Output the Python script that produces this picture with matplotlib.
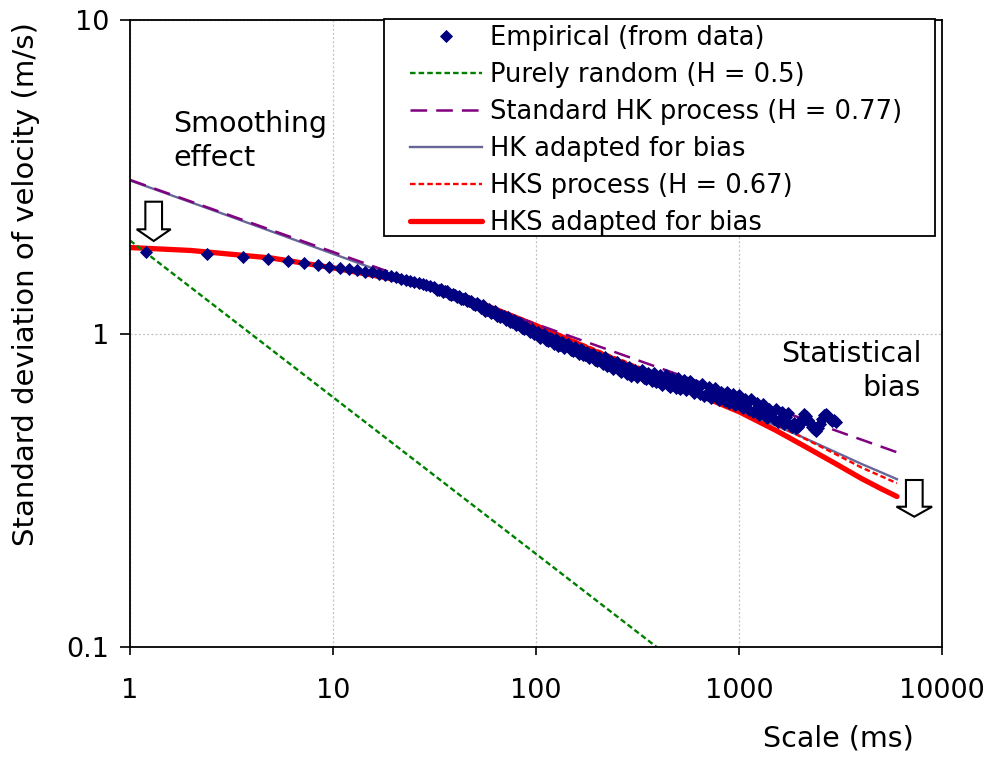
import matplotlib
matplotlib.use('Agg')
import matplotlib.pyplot as plt
from matplotlib.patches import Rectangle, Polygon
from matplotlib.ticker import NullLocator, FixedLocator, FixedFormatter

plt.rcParams['font.family'] = ['DejaVu Sans']
plt.rcParams['lines.scale_dashes'] = False

# ---------------- data ----------------
emp_scale = [1.2, 2.4, 3.6, 4.8, 6.0, 7.2, 8.4, 9.6, 10.8, 12.0, 13.2, 14.4, 15.6, 16.8, 18.0,
             19.2, 20.4, 21.6, 22.8, 24.0, 25.2, 26.4, 27.6, 28.8, 30.0,
             31.6, 32.4, 33.1, 33.9, 34.7, 35.5, 36.3, 37.2, 38.0, 38.9,
             39.8, 40.7, 41.7, 42.7, 43.7, 44.7, 45.7, 46.8, 47.9, 49.0,
             50.1, 51.3, 52.5, 53.7, 55.0, 56.2, 57.5, 58.9, 60.3, 61.7,
             63.1, 64.6, 66.1, 67.6, 69.2, 70.8, 72.4, 74.1, 75.9, 77.6,
             79.4, 81.3, 83.2, 85.1, 87.1, 89.1, 91.2, 93.3, 95.5, 97.7,
             100.0, 102.3, 104.7, 107.2, 109.6, 112.2, 114.8, 117.5, 120.2, 123.0,
             125.9, 128.8, 131.8, 134.9, 138.0, 141.3, 144.5, 147.9, 151.4, 154.9,
             158.5, 162.2, 166.0, 169.8, 173.8, 177.8, 182.0, 186.2, 190.5, 195.0,
             199.5, 204.2, 208.9, 213.8, 218.8, 223.9, 229.1, 234.4, 239.9, 245.5,
             251.2, 257.0, 263.0, 269.2, 275.4, 281.8, 288.4, 295.1, 302.0, 309.0,
             316.2, 323.6, 331.1, 338.8, 346.7, 354.8, 363.1, 371.5, 380.2, 389.0,
             398.1, 407.4, 416.9, 426.6, 436.5, 446.7, 457.1, 467.7, 478.6, 489.8,
             501.2, 512.9, 524.8, 537.0, 549.5, 562.3, 575.4, 588.8, 602.6, 616.6,
             631.0, 645.7, 660.7, 676.1, 691.8, 707.9, 724.4, 741.3, 758.6, 776.2,
             794.3, 812.8, 831.8, 851.1, 871.0, 891.3, 912.0, 933.3, 955.0, 977.2,
             1000, 1023, 1047, 1072, 1096, 1122, 1148, 1175, 1202, 1230,
             1259, 1288, 1318, 1349, 1380, 1413, 1445, 1479, 1514, 1549,
             1585, 1622, 1660, 1698, 1738, 1778, 1820, 1862, 1905, 1950,
             1995, 2042, 2089, 2138, 2188, 2239, 2291, 2344, 2399, 2455,
             2512, 2570, 2630, 2692, 2754, 2818, 2884, 2951, 3020]
emp_sd = [1.815, 1.789, 1.754, 1.724, 1.703, 1.682, 1.654, 1.633, 1.622, 1.606, 1.591, 1.574,
          1.566, 1.552, 1.541, 1.529, 1.515, 1.497, 1.486, 1.474, 1.462, 1.452, 1.440, 1.427, 1.414,
          1.411, 1.381, 1.378, 1.385, 1.357, 1.364, 1.366, 1.339, 1.329, 1.338,
          1.326, 1.307, 1.319, 1.291, 1.289, 1.294, 1.269, 1.273, 1.272, 1.246,
          1.235, 1.247, 1.231, 1.203, 1.229, 1.184, 1.185, 1.200, 1.160, 1.174,
          1.178, 1.141, 1.129, 1.148, 1.133, 1.107, 1.131, 1.089, 1.091, 1.103,
          1.065, 1.077, 1.080, 1.044, 1.031, 1.049, 1.036, 1.010, 1.031, 0.993,
          0.993, 1.011, 0.966, 0.987, 0.996, 0.954, 0.943, 0.971, 0.957, 0.928,
          0.963, 0.914, 0.919, 0.939, 0.898, 0.919, 0.928, 0.888, 0.877, 0.903,
          0.889, 0.863, 0.894, 0.851, 0.855, 0.875, 0.836, 0.855, 0.862, 0.825,
          0.816, 0.844, 0.829, 0.797, 0.839, 0.785, 0.792, 0.818, 0.770, 0.796,
          0.809, 0.764, 0.753, 0.785, 0.771, 0.740, 0.780, 0.731, 0.741, 0.767,
          0.724, 0.750, 0.763, 0.723, 0.714, 0.746, 0.735, 0.707, 0.746, 0.699,
          0.708, 0.739, 0.685, 0.721, 0.738, 0.687, 0.677, 0.719, 0.706, 0.672,
          0.723, 0.664, 0.676, 0.709, 0.658, 0.691, 0.708, 0.659, 0.648, 0.687,
          0.673, 0.641, 0.688, 0.633, 0.643, 0.674, 0.624, 0.656, 0.672, 0.625,
          0.614, 0.652, 0.639, 0.608, 0.653, 0.600, 0.610, 0.639, 0.592, 0.621,
          0.635, 0.588, 0.577, 0.616, 0.602, 0.569, 0.617, 0.560, 0.570, 0.601,
          0.551, 0.581, 0.596, 0.549, 0.539, 0.575, 0.562, 0.532, 0.576, 0.522,
          0.532, 0.560, 0.514, 0.542, 0.556, 0.512, 0.502, 0.520, 0.498, 0.505,
          0.516, 0.535, 0.552, 0.545, 0.530, 0.518, 0.505, 0.495, 0.488, 0.500,
          0.515, 0.532, 0.550, 0.553, 0.545, 0.532, 0.525, 0.530, 0.522]
assert len(emp_scale) == len(emp_sd), (len(emp_scale), len(emp_sd))

random_scale = [1, 6000]
random_sd = [1.98, 0.0256]

hk_scale = [1, 6000]
hk_sd = [3.09, 0.418]

hk_bias_scale = [1, 3, 10, 30, 100, 300, 700, 1000, 1500, 2000, 3000, 4000, 5000, 6000]
hk_bias_sd = [3.077, 2.384, 1.796, 1.385, 1.034, 0.785, 0.640, 0.572, 0.510, 0.471, 0.418,
              0.384, 0.361, 0.343]

hks_scale = [1, 2, 5, 10, 20, 30, 50, 100, 200, 500, 700, 1000, 1500, 2000, 3000, 4000, 5000, 6000]
hks_sd = [1.88, 1.84, 1.74, 1.622, 1.495, 1.406, 1.279, 1.071, 0.885, 0.697, 0.640, 0.585,
          0.515, 0.470, 0.412, 0.374, 0.351, 0.333]
hks_bias_sd = [1.88, 1.84, 1.74, 1.62, 1.49, 1.40, 1.27, 1.06, 0.872, 0.68, 0.620, 0.563,
               0.493, 0.445, 0.384, 0.345, 0.320, 0.302]

labels = ['Empirical (from data)', 'Purely random (H = 0.5)', 'Standard HK process (H = 0.77)',
          'HK adapted for bias', 'HKS process (H = 0.67)', 'HKS adapted for bias']

xticks = [1, 10, 100, 1000, 10000]
xticklabels = ['1', '10', '100', '1000', '10000']
yticks = [0.1, 1, 10]
yticklabels = ['0.1', '1', '10']

# ---------------- figure ----------------
W, H = 991, 760
fig = plt.figure(figsize=(W / 100, H / 100), dpi=100)
L, R, T, B = 130, 942, 20, 647
ax = fig.add_axes([L / W, 1 - B / H, (R - L) / W, (B - T) / H])
ax.set_xscale('log')
ax.set_yscale('log')
ax.set_xlim(1, 10000)
ax.set_ylim(0.1, 10)


def ax_x(px):
    return (px - L) / (R - L)


def ax_y(py):
    return (B - py) / (B - T)


l_hksb, = ax.plot(hks_scale, hks_bias_sd, color='#FF0000', lw=3.8, solid_capstyle='round',
                  solid_joinstyle='round', zorder=2)
l_hkb, = ax.plot(hk_bias_scale, hk_bias_sd, color='#666699', lw=1.7, zorder=2.1)
l_hks, = ax.plot(hks_scale, hks_sd, color='#FF0000', lw=1.7, dashes=(4, 2.2), zorder=2.2)
l_hk, = ax.plot(hk_scale, hk_sd, color='#800080', lw=1.8, dashes=(12, 6.5), zorder=2.3)
l_rnd, = ax.plot(random_scale, random_sd, color='#008000', lw=1.7, dashes=(4, 2.2), zorder=2.4)
l_emp, = ax.plot(emp_scale, emp_sd, ls='none', marker='D', ms=6.3, mfc='#000080', mec='#000080',
                 mew=0.6, zorder=3)

# axes styling
ax.xaxis.set_major_locator(FixedLocator(xticks))
ax.xaxis.set_major_formatter(FixedFormatter(xticklabels))
ax.yaxis.set_major_locator(FixedLocator(yticks))
ax.yaxis.set_major_formatter(FixedFormatter(yticklabels))
ax.xaxis.set_minor_locator(NullLocator())
ax.yaxis.set_minor_locator(NullLocator())
ax.tick_params(axis='x', direction='out', length=6, width=1.2, pad=16, labelsize=19.5)
ax.tick_params(axis='y', direction='out', length=7, width=1.2, pad=8, labelsize=19.5)
for s in ax.spines.values():
    s.set_linewidth(1.3)
ax.set_axisbelow(True)
ax.grid(True, which='major', linestyle=(0, (1.5, 1.5)), color='#C4C4C4', linewidth=0.9)

ax.set_xlabel('Scale (ms)', fontsize=20.5)
ax.xaxis.set_label_coords(ax_x(838), ax_y(724))
ax.set_ylabel('Standard deviation of velocity (m/s)', fontsize=21)
ax.yaxis.set_label_coords(ax_x(40), ax_y(284))

# annotations
ax.text(ax_x(173), ax_y(110), 'Smoothing\neffect', transform=ax.transAxes, fontsize=20.5,
        va='top', ha='left', linespacing=1.28, zorder=7)
ax.text(ax_x(921), ax_y(340), 'Statistical\nbias', transform=ax.transAxes, fontsize=20.5,
        va='top', ha='right', multialignment='right', linespacing=1.28, zorder=7)


def block_arrow(cx, top, shaft_w, shaft_bottom, head_w, tip):
    pts = [(cx - shaft_w / 2, top), (cx + shaft_w / 2, top), (cx + shaft_w / 2, shaft_bottom),
           (cx + head_w / 2, shaft_bottom), (cx, tip), (cx - head_w / 2, shaft_bottom),
           (cx - shaft_w / 2, shaft_bottom)]
    pts = [(ax_x(x), ax_y(y)) for x, y in pts]
    ax.add_patch(Polygon(pts, closed=True, transform=ax.transAxes, fc='white', ec='black',
                         lw=1.5, zorder=6, clip_on=False))


block_arrow(153.7, 201.7, 16.7, 229.3, 34.0, 241.0)
block_arrow(914.3, 480.0, 16.7, 506.7, 35.6, 516.7)

# legend box and legend
ax.add_patch(Rectangle((ax_x(384), ax_y(236)), ax_x(935) - ax_x(384), ax_y(18.5) - ax_y(236),
                       transform=ax.transAxes, fc='white', ec='black', lw=1.3, zorder=5,
                       clip_on=False))
leg = ax.legend([l_emp, l_rnd, l_hk, l_hkb, l_hks, l_hksb], labels, loc='upper left',
                bbox_to_anchor=(ax_x(410), ax_y(25)), frameon=False, fontsize=18.5,
                borderpad=0, borderaxespad=0, handlelength=2.8, handletextpad=0.3,
                labelspacing=0.43, numpoints=1)
leg.set_zorder(6)

fig.savefig('out.png', dpi=100)
